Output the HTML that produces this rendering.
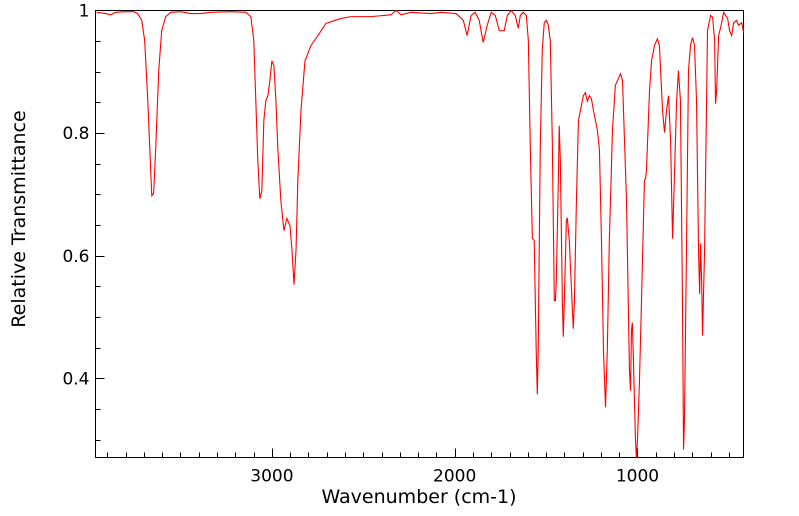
<!DOCTYPE html>
<html><head><meta charset="utf-8"><style>
body{margin:0;background:#fff;}
svg{display:block;font-family:"DejaVu Sans","Liberation Sans",sans-serif;}
</style></head><body>
<svg id="chart" width="799" height="516">
<rect x="95.5" y="10.5" width="648" height="447" fill="none" stroke="#000" stroke-width="1"/>
<g id="ticks"></g>
<path id="line" fill="none" stroke="#ff0000" stroke-width="1.1"/>
<text x="419" y="503" font-size="19" text-anchor="middle">Wavenumber (cm-1)</text>
<text transform="translate(25,219) rotate(-90)" font-size="19" text-anchor="middle">Relative Transmittance</text>
</svg>
<script>
const wavenumbers=[3959,3910,3882,3855,3800,3756,3734,3712,3696,3679,3663,3657,3647,3636,3619,3603,3581,3553,3499,3444,3389,3334,3225,3142,3115,3099,3088,3077,3066,3055,3044,3033,3022,3011,3000,2989,2978,2967,2951,2934,2918,2901,2890,2879,2868,2858,2841,2819,2786,2742,2704,2622,2567,2458,2348,2321,2293,2238,2129,2074,1992,1953,1932,1921,1910,1888,1866,1844,1822,1800,1778,1756,1729,1712,1691,1669,1652,1641,1625,1608,1597,1586,1575,1565,1554,1548,1543,1532,1521,1510,1499,1488,1477,1466,1455,1449,1444,1433,1428,1422,1411,1406,1400,1389,1384,1373,1356,1351,1345,1334,1323,1312,1296,1285,1274,1263,1252,1241,1219,1208,1197,1186,1175,1165,1154,1137,1121,1093,1082,1060,1044,1038,1033,1028,1022,1011,1006,1000,989,978,962,956,951,934,923,907,891,880,863,852,841,830,819,808,797,786,776,765,754,748,743,732,721,710,699,688,677,666,660,655,649,644,633,622,617,611,600,589,578,573,567,556,540,529,518,507,496,485,474,458,447,430,419];
const transmittance=[.997,.995,.993,.997,.998,.998,.995,.984,.951,.853,.739,.698,.702,.772,.902,.967,.990,.997,.998,.995,.995,.997,.998,.997,.990,.951,.853,.755,.693,.706,.821,.853,.861,.886,.918,.910,.853,.772,.690,.641,.661,.649,.609,.553,.609,.723,.837,.918,.943,.962,.979,.987,.990,.990,.993,1.0,.993,.997,.995,.997,.995,.984,.959,.976,.992,.997,.984,.948,.976,.997,.992,.967,.967,.992,1.0,.992,.971,.992,.997,.992,.951,.772,.628,.625,.446,.374,.446,.772,.935,.980,.984,.976,.951,.788,.527,.527,.560,.723,.812,.755,.527,.468,.527,.658,.662,.625,.511,.481,.527,.690,.821,.837,.861,.866,.852,.861,.856,.837,.804,.772,.625,.446,.353,.446,.625,.804,.878,.897,.886,.690,.413,.380,.478,.491,.429,.299,.271,.299,.397,.527,.723,.726,.739,.870,.918,.943,.954,.943,.837,.801,.837,.861,.788,.628,.739,.853,.902,.853,.527,.284,.331,.609,.902,.943,.956,.943,.853,.609,.538,.620,.560,.470,.609,.853,.967,.976,.992,.989,.951,.848,.870,.959,.979,.997,.992,.987,.967,.959,.980,.984,.976,.980,.964];
const yTickValues=[0.4,0.6,0.8,1];
const yTickLabels=["0.4","0.6","0.8","1"];
const xTickValues=[1000,2000,3000];
const xTickLabels=["1000","2000","3000"];
const X0=95.5,X1=743.5,Y0=10.5,Y1=457.5,XMIN=3965,XMAX=420,YMIN=0.2711,YMAX=1;
function xs(v){return X0+(XMIN-v)/(XMIN-XMAX)*(X1-X0);}
function ys(v){return Y0+(YMAX-v)/(YMAX-YMIN)*(Y1-Y0);}
const NS="http://www.w3.org/2000/svg";
const tg=document.getElementById('ticks');
function line(x1,y1,x2,y2,name){const l=document.createElementNS(NS,'line');l.setAttribute('x1',x1);l.setAttribute('y1',y1);l.setAttribute('x2',x2);l.setAttribute('y2',y2);l.setAttribute('stroke','#000');


tg.appendChild(l);}
function text(x,y,s,anchor,name){const t=document.createElementNS(NS,'text');t.setAttribute('x',x);t.setAttribute('y',y);t.setAttribute('font-size','17');t.setAttribute('text-anchor',anchor);t.textContent=s;


tg.appendChild(t);}
for(let v=0.3;v<0.999;v+=0.05){const y=Math.round(ys(v))+0.5;const major=yTickValues.some(m=>Math.abs(m-v)<1e-6);line(X0,y,X0+(major?9:5),y,major?'y-major-tick':'y-minor-tick');}
yTickValues.forEach((v,i)=>{text(X0-6,ys(v)+6,yTickLabels[i],'end','y-tick-label');});
for(let v=500;v<=3900;v+=100){const x=Math.round(xs(v))+0.5;const major=v%1000===0;line(x,Y1,x,Y1-(major?9:5),major?'x-major-tick':'x-minor-tick');}
xTickValues.forEach((v,i)=>{text(xs(v),Y1+24,xTickLabels[i],'middle','x-tick-label');});
let d='';wavenumbers.forEach((w,i)=>{d+=(i?'L':'M')+xs(w).toFixed(2)+','+ys(transmittance[i]).toFixed(2);});
document.getElementById('line').setAttribute('d',d);
</script>
</body></html>
